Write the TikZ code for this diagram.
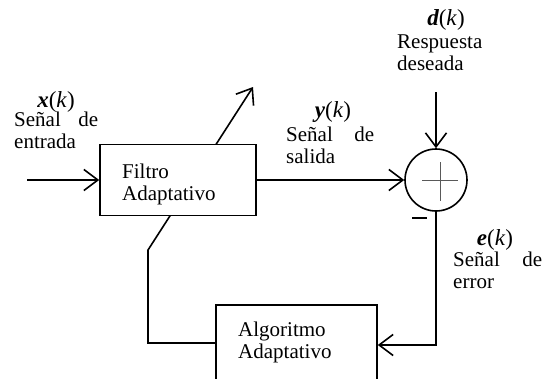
\documentclass[tikz,border=0pt]{standalone}
\usepackage{fontspec}
\setmainfont{Liberation Serif}
\usetikzlibrary{arrows.meta,calc,backgrounds}
\tikzset{
  ln/.style={line width=1.6pt},
  arr/.style={ln,-{Straight Barb[length=14pt,width=21pt,line width=1.6pt]}},
  box/.style={draw,ln,fill=white,rectangle,inner sep=0pt},
  txt/.style={inner sep=0pt,font=\fontsize{21pt}{22pt}\selectfont,align=left},
  sigtxt/.style={inner sep=0pt,font=\fontsize{23pt}{24pt}\selectfont},
}
\newcommand{\sig}[1]{{\bfseries\itshape #1}(\textit{k})}
\begin{document}
\begin{tikzpicture}[x=1pt,y=-1pt]
\clip (0,0) rectangle (544,378);
% blocks
\node[box,minimum width=156pt,minimum height=71pt] (filtro) at (178,180) {};
\node[txt,anchor=base west] (filtrotxt) at (122,200) {Filtro\\Adaptativo};
\node[box,minimum width=161pt,minimum height=100pt] (algo) at (296.5,355) {};
\node[txt,anchor=base west] (algotxt) at (238,358) {Algoritmo\\Adaptativo};
\node[draw,ln,circle,minimum size=62pt,inner sep=0pt] (sum) at (436,180) {};
\draw[gray!70!black,line width=0.9pt] ($(sum)+(-14,0)$) -- ($(sum)+(22,0)$);
\draw[gray!70!black,line width=0.9pt] ($(sum)+(4,-18)$) -- ($(sum)+(4,21)$);
\draw[line width=2pt] ($(sum)+(-24,38)$) -- ($(sum)+(-9,38)$);
% coordinates
\coordinate (xin) at (27,180);
\coordinate (dstart) at (436,92);
\coordinate (eturn) at (436,345);
\coordinate (fbA) at (148,343);
\coordinate (fbB) at (148,250);
\coordinate (fbtip) at (253,87);
% connectors
\begin{pgfonlayer}{background}
\draw[arr] (fbA -| algo.west) -- (fbA) -- (fbB) -- (fbtip);
\end{pgfonlayer}
\draw[arr] (xin) -- (filtro.west);
\draw[arr] (filtro.east) -- (sum.west);
\draw[arr] (dstart) -- (sum.north);
\draw[arr] (sum.south) -- (eturn) -- (eturn -| algo.east);
% labels
\node[sigtxt,anchor=base] (xk) at (56,107) {\sig{x}};
\node[txt,anchor=base west] (xtxt) at (14,148) {\hbox to 84pt{Señal\hfil de}\\entrada};
\node[sigtxt,anchor=base] (yk) at (333,117) {\sig{y}};
\node[txt,anchor=base west] (ytxt) at (286,163) {\hbox to 88pt{Señal\hfil de}\\salida};
\node[sigtxt,anchor=base] (dk) at (446,25) {\sig{d}};
\node[txt,anchor=base west] (dtxt) at (397,70) {Respuesta\\deseada};
\node[sigtxt,anchor=base] (ek) at (495,245) {\sig{e}};
\node[txt,anchor=base west] (etxt) at (453,288) {\hbox to 89pt{Señal\hfil de}\\error};
\end{tikzpicture}
\end{document}
